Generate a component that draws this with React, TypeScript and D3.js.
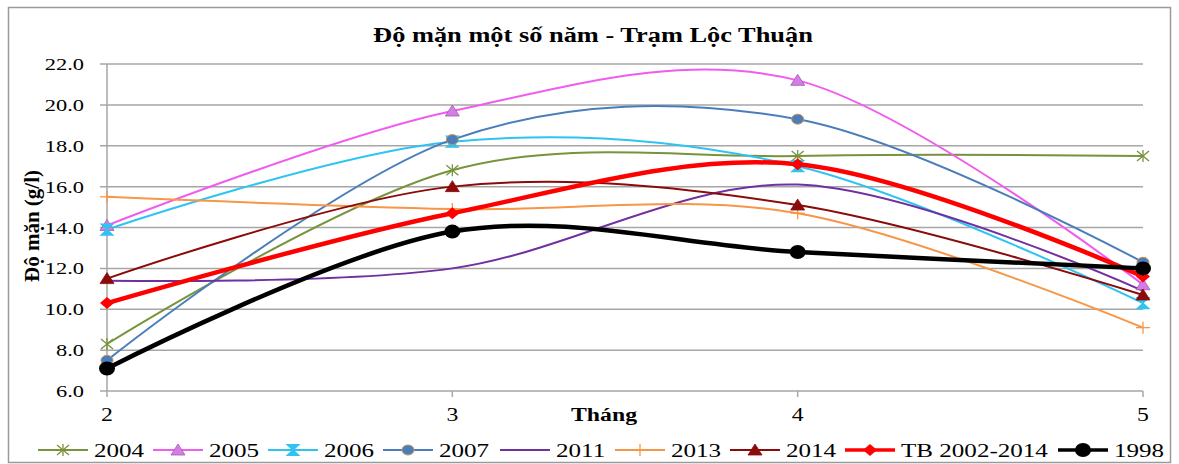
import React from "react";
import * as d3 from "d3";

const months = [2, 3, 4, 5];
const yTicks = [6, 8, 10, 12, 14, 16, 18, 20, 22];
const seriesNames = ["2004", "2005", "2006", "2007", "2011", "2013", "2014", "TB 2002-2014", "1998"];
const s2004 = [8.3, 16.8, 17.5, 17.5];
const s2005 = [14.1, 19.7, 21.2, 11.2];
const s2006 = [13.9, 18.2, 17.0, 10.3];
const s2007 = [7.5, 18.3, 19.3, 12.3];
const s2011 = [11.4, 12.0, 16.1, 10.9];
const s2013 = [15.5, 14.9, 14.7, 9.1];
const s2014 = [11.5, 16.0, 15.1, 10.7];
const sTB = [10.3, 14.7, 17.1, 11.6];
const s1998 = [7.1, 13.8, 12.8, 12.0];
const seriesValues = [s2004, s2005, s2006, s2007, s2011, s2013, s2014, sTB, s1998];

const colors = ["#77933C", "#F05CF0", "#2EC4F2", "#4A7EBB", "#7030A0", "#F79646", "#8B0A0A", "#FF0000", "#000000"];
const widths = [2, 2, 2, 2, 2, 2, 2, 4.5, 4.5];
const markers = ["asterisk", "triangle", "hourglass", "circle", "none", "plus", "triangle", "diamond", "bigcircle"];

const W = 1179, H = 464;
const SX = 1.32;
const FONT = '"Liberation Serif", "Times New Roman", "DejaVu Serif", serif';
const x = d3.scaleLinear().domain([2, 5]).range([107, 1143]);
const y = d3.scaleLinear().domain([6, 22]).range([391, 64]);
const line = d3.line<number>().x((_, i) => x(months[i])).y(d => y(d)).curve(d3.curveCardinal.tension(0));

function T({ x, y, size, bold, anchor, children, sx = SX }: any) {
  return (
    <text transform={`translate(${x},${y}) scale(${sx},1)`} textAnchor={anchor || "start"} fontSize={size}
      fontWeight={bold ? "bold" : "normal"} style={{ fontFamily: FONT }} fill="#000">{children}</text>
  );
}

function Marker({ type, cx, cy, color }: { type: string; cx: number; cy: number; color: string }) {
  const t = `translate(${cx},${cy})`;
  switch (type) {
    case "asterisk":
      return (
        <g transform={t} stroke={color} strokeWidth={1.3}>
          <line x1={-6} y1={-5} x2={6} y2={5} />
          <line x1={-6} y1={5} x2={6} y2={-5} />
          <line x1={0} y1={-6} x2={0} y2={6} />
        </g>
      );
    case "triangle":
      return <path transform={t} d="M0,-6L7,5L-7,5Z" fill={color === "#F05CF0" ? "#D77BE8" : color} stroke={color === "#F05CF0" ? "#9B5FA8" : color} strokeWidth={0.8} />;
    case "hourglass":
      return <path transform={t} d="M-6,-5.5L6,-5.5L-6,5.5L6,5.5Z" fill="#2EC4F2" stroke="#2EC4F2" strokeWidth={1.2} />;
    case "circle":
      return <ellipse cx={cx} cy={cy} rx={6} ry={5} fill="#4A7EBB" stroke="#C8915A" strokeWidth={1} />;
    case "plus":
      return (
        <g transform={t} stroke={color} strokeWidth={1.3}>
          <line x1={-7} y1={0} x2={7} y2={0} />
          <line x1={0} y1={-6} x2={0} y2={6} />
        </g>
      );
    case "diamond":
      return <path transform={t} d="M0,-6L7,0L0,6L-7,0Z" fill={color} />;
    case "bigcircle":
      return <ellipse cx={cx} cy={cy} rx={8} ry={7} fill="#000" />;
    default:
      return null;
  }
}

const legendX = [38, 153, 268, 383, 500, 615, 730, 845, 1058];

export default function App() {
  return (
    <svg width={W} height={H} style={{ position: "absolute", left: 0, top: 0, background: "#fff" }}>
      <rect x={8.5} y={7.5} width={1162} height={455} fill="#fff" stroke="#9a9a9a" strokeWidth={1.5} />
      <T x={593} y={42} size={20} bold anchor="middle">Độ mặn một số năm - Trạm Lộc Thuận</T>
      {yTicks.map(v => (
        <g key={v}>
          <line x1={100} x2={1143} y1={y(v)} y2={y(v)} stroke="#A6A6A6" strokeWidth={1.5} />
          <T x={84} y={y(v) + 6} size={17} anchor="end">{v.toFixed(1)}</T>
        </g>
      ))}
      <line x1={107} x2={107} y1={y(22)} y2={y(6)} stroke="#A6A6A6" strokeWidth={1.5} />
      {months.map(m => (
        <g key={m}>
          <line x1={x(m)} x2={x(m)} y1={y(6)} y2={y(6) + 6} stroke="#A6A6A6" strokeWidth={1.5} />
          <T x={x(m)} y={421} size={18} anchor="middle">{m}</T>
        </g>
      ))}
      <T x={604} y={421} size={18} bold anchor="middle">Tháng</T>
      <text transform={`translate(${39},${226}) scale(1.25,1) rotate(-90)`} textAnchor="middle" fontSize={17} fontWeight="bold"
        style={{ fontFamily: FONT }} textLength={112} lengthAdjust="spacingAndGlyphs">Độ mặn (g/l)</text>
      {seriesValues.map((vals, si) => (
        <path key={si} d={line(vals) || ""} fill="none" stroke={colors[si]} strokeWidth={widths[si]} />
      ))}
      {seriesValues.map((vals, si) => (
        <g key={"m" + si}>
          {vals.map((v, i) => (
            <Marker key={i} type={markers[si]} cx={x(months[i])} cy={y(v)} color={colors[si]} />
          ))}
        </g>
      ))}
      {seriesNames.map((n, si) => (
        <g key={"l" + si}>
          <line x1={legendX[si]} x2={legendX[si] + 50} y1={450} y2={450} stroke={colors[si]} strokeWidth={widths[si] === 2 ? 2.2 : 3.5} />
          <Marker type={markers[si]} cx={legendX[si] + 25} cy={450} color={colors[si]} />
          <T x={legendX[si] + 56} y={457} size={19}>{n}</T>
        </g>
      ))}
    </svg>
  );
}
